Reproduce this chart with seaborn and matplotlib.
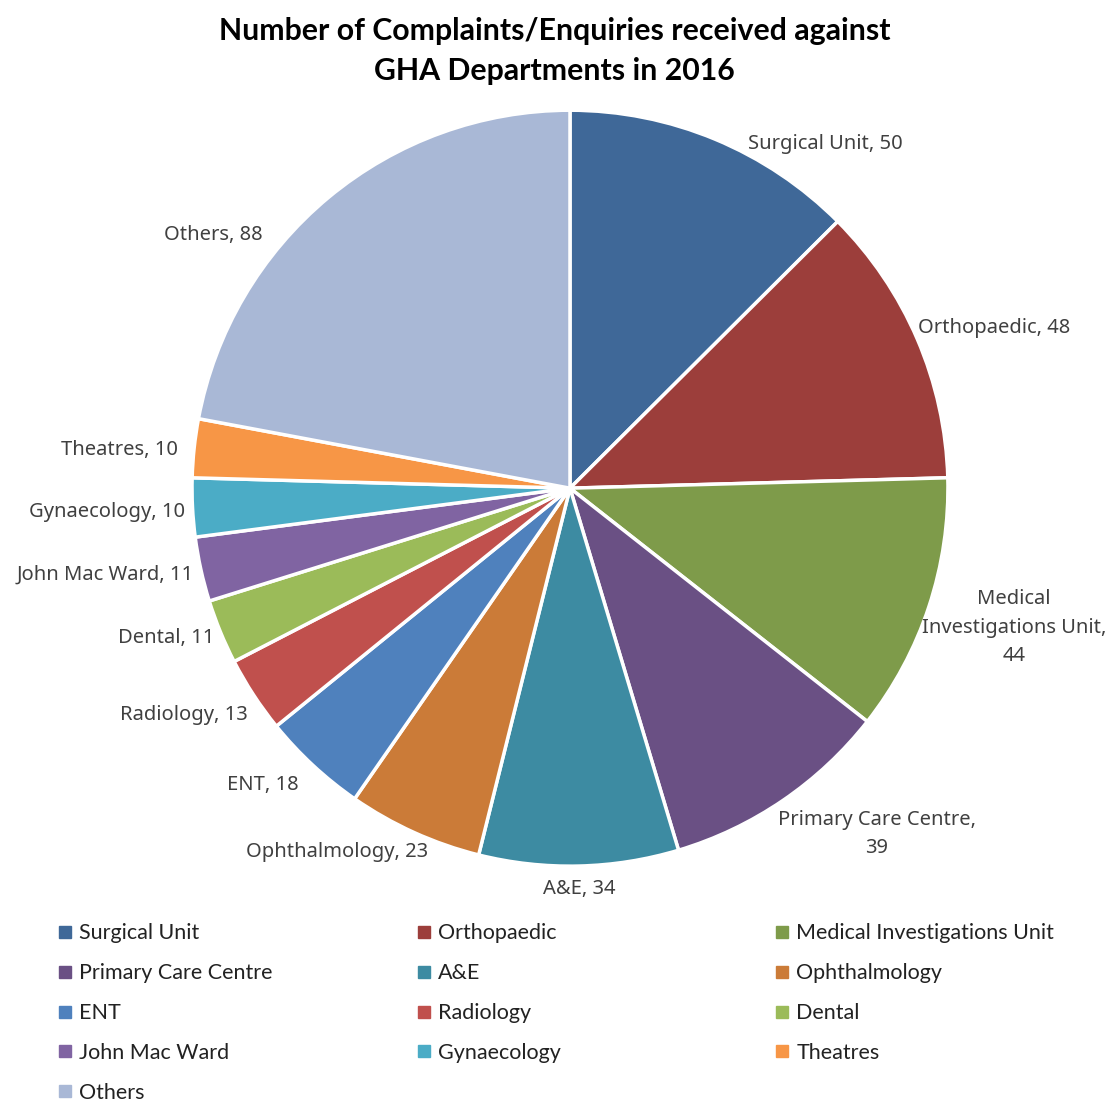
import matplotlib
matplotlib.use("Agg")
import matplotlib.pyplot as plt
from matplotlib.lines import Line2D
import seaborn as sns
import numpy as np

# Complaints/enquiries per department, 2016
departments = ["Surgical Unit", "Orthopaedic", "Medical Investigations Unit",
               "Primary Care Centre", "A&E", "Ophthalmology", "ENT", "Radiology",
               "Dental", "John Mac Ward", "Gynaecology", "Theatres", "Others"]
complaints = [50, 48, 44, 39, 34, 23, 18, 13, 11, 11, 10, 10, 88]

# Label text as shown beside each slice (line breaks for the long ones)
label_names = ["Surgical Unit", "Orthopaedic", "Medical\nInvestigations Unit",
               "Primary Care Centre", "A&E", "Ophthalmology", "ENT", "Radiology",
               "Dental", "John Mac Ward", "Gynaecology", "Theatres", "Others"]

slice_colors = ["#3F6898", "#9C3E3B", "#7E9B4A", "#6A5084", "#3D8BA2", "#CB7B38",
                "#4F81BD", "#C0504D", "#9BBB59", "#8064A2", "#4BACC6", "#F79646",
                "#A9B8D6"]

sns.set_theme(style="white")
plt.rcParams["font.family"] = ["Noto Sans", "DejaVu Sans"]

fig = plt.figure(figsize=(11.1, 11.02), dpi=100)
ax = fig.add_axes([0.173, 0.214, 0.681, 0.686])

wedges, _ = ax.pie(complaints, colors=slice_colors, startangle=90, counterclock=False,
                   wedgeprops=dict(edgecolor="white", linewidth=2.5))
ax.set_xlim(-1, 1)
ax.set_ylim(-1, 1)
ax.set_aspect("equal")

# Label anchors (in pie-radius units) and alignment for each slice
label_layout = [
    ((0.471, 0.910), "left"),
    ((0.921, 0.423), "left"),
    ((1.174, -0.369), "center"),
    ((0.812, -0.915), "center"),
    ((0.024, -1.061), "center"),
    ((-0.376, -0.963), "right"),
    ((-0.717, -0.786), "right"),
    ((-0.852, -0.601), "right"),
    ((-0.942, -0.397), "right"),
    ((-0.995, -0.230), "right"),
    ((-1.019, -0.063), "right"),
    ((-1.037, 0.100), "right"),
    ((-0.812, 0.669), "right"),
]
for name, val, ((x, y), ha) in zip(label_names, complaints, label_layout):
    if name == "Primary Care Centre" or "\n" in name:
        txt = f"{name},\n{val}"
    else:
        txt = f"{name}, {val}"
    ax.text(x, y, txt, ha=ha, va="center", multialignment="center",
            fontsize=14.5, color="#404040", linespacing=1.55)

fig.text(0.4995, 0.9537, "Number of Complaints/Enquiries received against\nGHA Departments in 2016",
         ha="center", va="center", fontsize=21.8, fontweight="bold", color="black",
         family=["Lato", "DejaVu Sans"], linespacing=1.5)

# Legend laid out row by row in three fixed-width columns
col_x = [0.052, 0.375, 0.698]
for c in range(3):
    idx = list(range(c, len(departments), 3))
    handles = [Line2D([0], [0], marker="s", linestyle="", markersize=9,
                      markerfacecolor=slice_colors[i], markeredgecolor=slice_colors[i])
               for i in idx]
    fig.legend(handles, [departments[i] for i in idx], loc="upper left",
               bbox_to_anchor=(col_x[c], 0.162), frameon=False,
               prop=dict(family=["Lato", "DejaVu Sans"], size=15.5),
               labelspacing=0.92, handlelength=0.7, handletextpad=0.3,
               borderaxespad=0, borderpad=0, labelcolor="#222222")

fig.savefig("out.png", dpi=100, facecolor="white")
